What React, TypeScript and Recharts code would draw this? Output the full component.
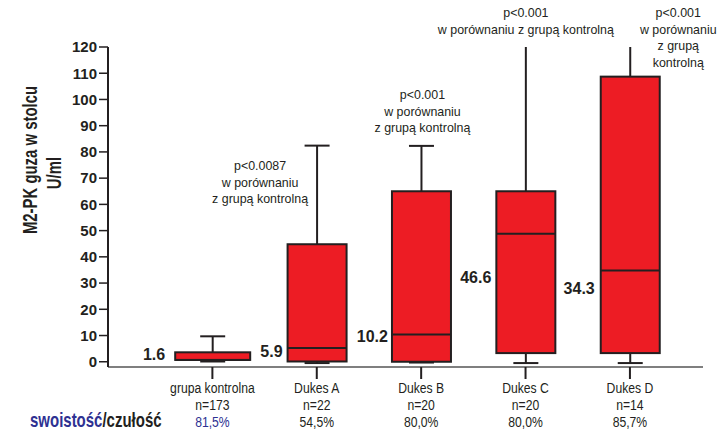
import { Bar, ComposedChart, XAxis, YAxis } from 'recharts';

const categories = ['grupa kontrolna', 'Dukes A', 'Dukes B', 'Dukes C', 'Dukes D'];
const counts = ['n=173', 'n=22', 'n=20', 'n=20', 'n=14'];
const specificity = ['81,5%', '54,5%', '80,0%', '80,0%', '85,7%'];
const whiskerLow = [0.1, -0.5, -0.3, -0.5, -0.5];
const q1 = [0.7, 0.1, 0, 3.3, 3.3];
const median = [0.7, 5.2, 10.4, 48.8, 34.8];
const q3 = [3.6, 44.8, 65.0, 65.0, 108.7];
const whiskerHigh = [9.7, 82.4, 82.3, 120, 120];
const medianLabels = ['1.6', '5.9', '10.2', '46.6', '34.3'];
const pNotes = [
  [],
  ['p<0.0087', 'w porównaniu', 'z grupą kontrolną'],
  ['p<0.001', 'w porównaniu', 'z grupą kontrolną'],
  ['p<0.001', 'w porównaniu z grupą kontrolną'],
  ['p<0.001', 'w porównaniu', 'z grupą', 'kontrolną'],
];
const yTicks = [0, 10, 20, 30, 40, 50, 60, 70, 80, 90, 100, 110, 120];

// layout only
const boxWidth = [75, 59, 59, 59, 59];
const labelAt = [3.1, 4.2, 9.9, 32.5, 28.3];
const labelGap = [10, 5, 4, 5, 6];
const noteDx = [0, -57, 1, 0, 48];
const noteTop = [0, 165, 94, 12, 12];

const RED = '#ED1C24';
const INK = '#231F20';
const BLUE = '#2E3192';
const SANS = "'Liberation Sans', Arial, sans-serif";

const rows = categories.map((name, i) => ({
  x: i + 1,
  name,
  box: [q1[i], q3[i]],
}));

// squeezed text to imitate the condensed face of the original
const Cond = ({ x, y, size, squeeze, bold, fill = INK, anchor = 'middle', rotate, children }: any) => (
  <g transform={`translate(${x},${y})${rotate ? ' rotate(-90)' : ''} scale(${squeeze},1)`}>
    <text
      x={0}
      y={0}
      textAnchor={anchor}
      fontFamily={SANS}
      fontSize={size}
      fontWeight={bold ? 'bold' : 'normal'}
      fill={fill}
    >
      {children}
    </text>
  </g>
);

const BoxShape = (props: any) => {
  const { x, y, width, height, index } = props;
  const i = index;
  const top = Math.min(y, y + height);
  const h = Math.abs(height);
  const unit = h / (q3[i] - q1[i]);
  const yOf = (v: number) => top + (q3[i] - v) * unit;
  const cx = x + width / 2;
  const w = boxWidth[i];
  const left = cx - w / 2;
  const yHi = yOf(whiskerHigh[i]);
  const yLo = yOf(whiskerLow[i]);
  return (
    <g>
      <line x1={cx} x2={cx} y1={yHi} y2={top} stroke={INK} strokeWidth={2} />
      {whiskerHigh[i] < 120 && (
        <line x1={cx - 12.5} x2={cx + 12.5} y1={yHi} y2={yHi} stroke={INK} strokeWidth={2} />
      )}
      <line x1={cx} x2={cx} y1={top + h} y2={yLo} stroke={INK} strokeWidth={2} />
      <line x1={cx - 12.5} x2={cx + 12.5} y1={yLo} y2={yLo} stroke={INK} strokeWidth={2} />
      <rect x={left} y={top} width={w} height={h} fill={RED} stroke={INK} strokeWidth={2} />
      <line x1={left} x2={left + w} y1={yOf(median[i])} y2={yOf(median[i])} stroke={INK} strokeWidth={2} />
      <text
        x={left - labelGap[i]}
        y={yOf(labelAt[i])}
        dy={6}
        textAnchor="end"
        fontFamily={SANS}
        fontWeight="bold"
        fontSize={16}
        fill={INK}
      >
        {medianLabels[i]}
      </text>
      {pNotes[i].map((line, k) => (
        <Cond key={k} x={cx + noteDx[i]} y={noteTop[i] + k * 16.7 + 5} size={13.5} squeeze={0.92}>
          {line}
        </Cond>
      ))}
    </g>
  );
};

const CategoryTick = (props: any) => {
  const { x, payload } = props;
  const i = Math.round(payload.value) - 1;
  if (i < 0 || i >= categories.length) return null;
  return (
    <g>
      <Cond x={x} y={393} size={14} squeeze={0.87}>{categories[i]}</Cond>
      <Cond x={x} y={410} size={14} squeeze={0.87}>{counts[i]}</Cond>
      <Cond x={x} y={427} size={14} squeeze={0.87} fill={i === 0 ? BLUE : INK}>{specificity[i]}</Cond>
    </g>
  );
};

const SideTexts = () => (
  <g>
    <Cond x={37} y={160} size={21} squeeze={0.71} bold rotate>M2-PK guza w stolcu</Cond>
    <Cond x={61} y={173} size={21} squeeze={0.71} bold rotate>U/ml</Cond>
    <g transform="translate(30,427) scale(0.75,1)">
      <text x={0} y={0} fontFamily={SANS} fontWeight="bold" fontSize={20}>
        <tspan fill={BLUE}>swoistość</tspan>
        <tspan fill={INK}>/czułość</tspan>
      </text>
    </g>
  </g>
);

export default function App() {
  return (
    <div style={{ width: 723, height: 439, background: '#fff' }}>
      <style>{'body{margin:0}'}</style>
      <ComposedChart
        width={723}
        height={439}
        data={rows}
        margin={{ top: 47, right: 20, left: 0, bottom: 0 }}
      >
        <XAxis
          type="number"
          dataKey="x"
          domain={[0, 5.7]}
          ticks={[1, 2, 3, 4, 5]}
          height={72}
          tickSize={12}
          tickMargin={0}
          axisLine={{ stroke: '#555', strokeWidth: 1.5 }}
          tickLine={{ stroke: INK, strokeWidth: 2 }}
          tick={<CategoryTick />}
          interval={0}
        />
        <YAxis
          type="number"
          domain={[-2, 120]}
          ticks={yTicks}
          width={108}
          tickSize={9}
          tickMargin={2}
          axisLine={{ stroke: INK, strokeWidth: 2 }}
          tickLine={{ stroke: INK, strokeWidth: 1.5 }}
          tick={{ fill: INK, fontSize: 15, fontWeight: 'bold', fontFamily: SANS }}
          interval={0}
          label={{ content: () => <SideTexts /> }}
        />
        <Bar dataKey="box" barSize={59} shape={<BoxShape />} isAnimationActive={false} />
      </ComposedChart>
    </div>
  );
}
